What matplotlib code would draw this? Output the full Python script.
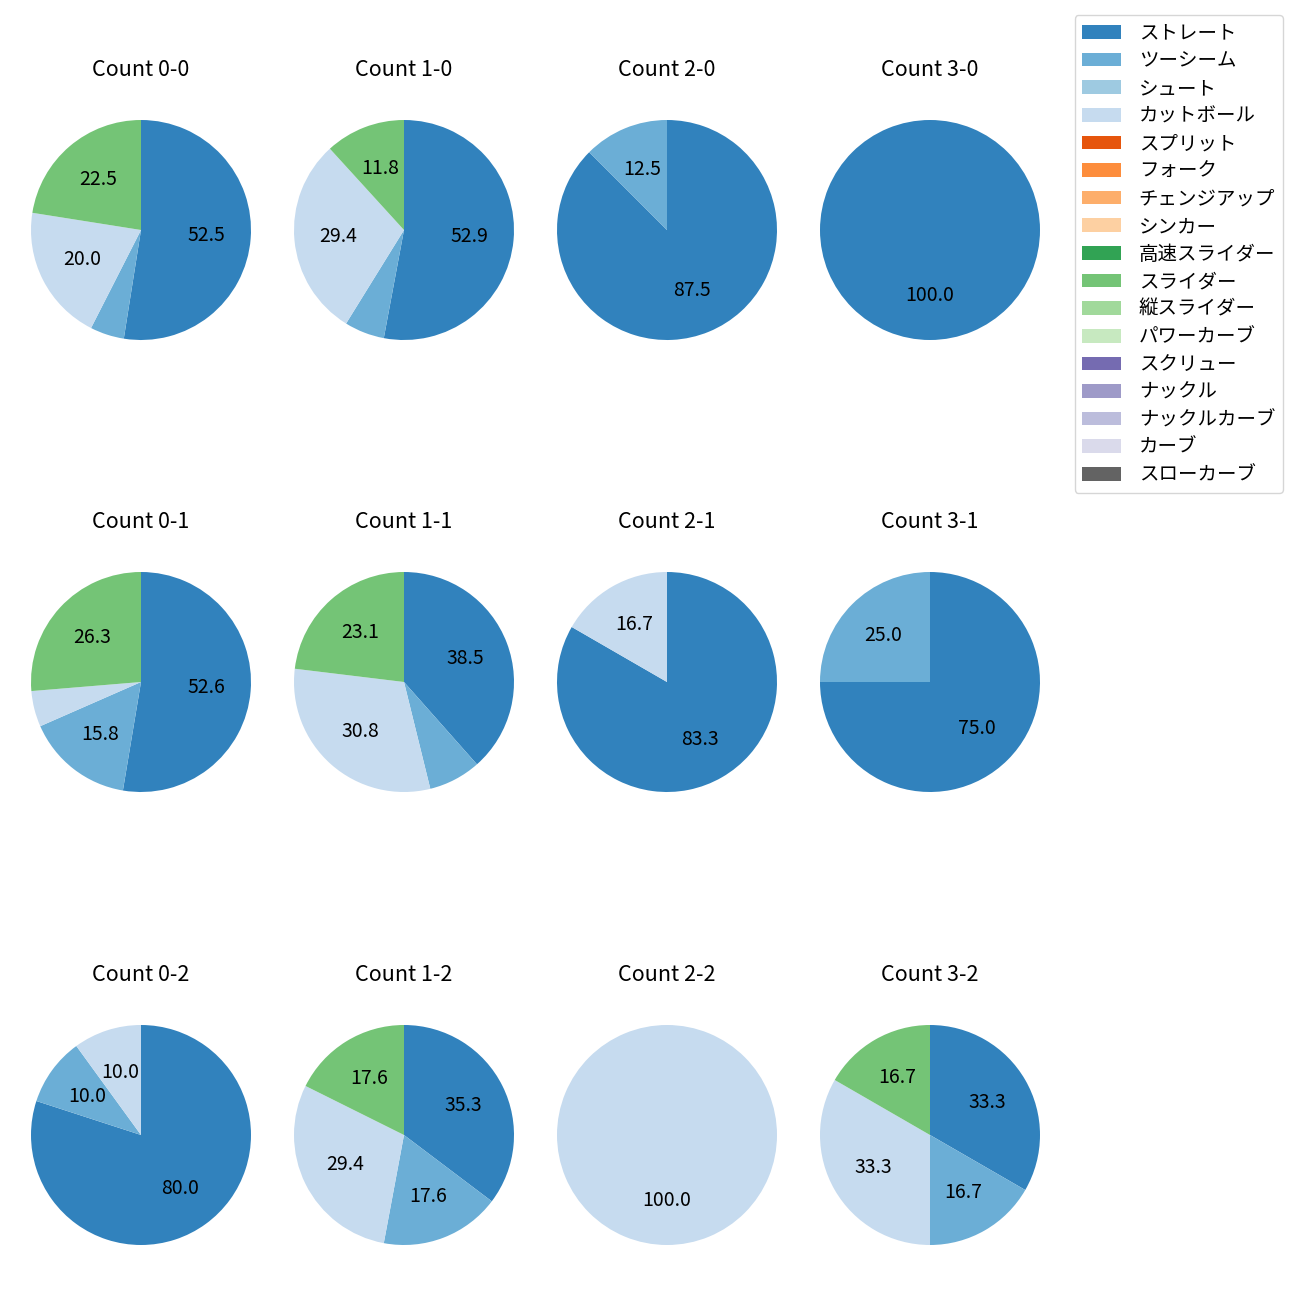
import numpy as np
import matplotlib
matplotlib.use("Agg")
import matplotlib.pyplot as plt
from matplotlib.patches import Patch

plt.rcParams['font.family'] = ['Noto Sans CJK JP', 'DejaVu Sans']

# =========================================
# DATA
# =========================================
PITCHES = [
    "ストレート", "ツーシーム", "シュート", "カットボール",
    "スプリット", "フォーク", "チェンジアップ", "シンカー",
    "高速スライダー", "スライダー", "縦スライダー", "パワーカーブ",
    "スクリュー", "ナックル", "ナックルカーブ", "カーブ", "スローカーブ",
]

COUNTS = ["0-0", "1-0", "2-0", "3-0",
          "0-1", "1-1", "2-1", "3-1",
          "0-2", "1-2", "2-2", "3-2"]

# pitch counts per ball-strike count: ストレート, ツーシーム, カットボール, スライダー
straight = [21, 9, 7, 1, 10, 5, 5, 3, 8, 6, 0, 2]
twoseam  = [2, 1, 1, 0, 3, 1, 0, 1, 1, 3, 0, 1]
cutball  = [8, 5, 0, 0, 1, 4, 1, 0, 1, 5, 1, 2]
slider   = [9, 2, 0, 0, 5, 3, 0, 0, 0, 3, 0, 1]

colors = [plt.cm.tab20c(i) for i in range(len(PITCHES))]


def pct_label(p):
    return f"{p:.1f}" if p >= 10 else ""


W = H = 1300
fig = plt.figure(figsize=(13, 13), dpi=100)

# pie centres in pixels
col_x = [141, 404, 667, 930]
row_y = [230, 682, 1135]
side = 250

for k, cnt in enumerate(COUNTS):
    cx = col_x[k % 4]
    cy = row_y[k // 4]
    ax = fig.add_axes([(cx - side / 2) / W, 1 - (cy + side / 2) / H, side / W, side / H])
    vals = np.zeros(len(PITCHES))
    vals[PITCHES.index("ストレート")] = straight[k]
    vals[PITCHES.index("ツーシーム")] = twoseam[k]
    vals[PITCHES.index("カットボール")] = cutball[k]
    vals[PITCHES.index("スライダー")] = slider[k]
    ax.pie(vals, colors=colors, startangle=90, counterclock=False,
           radius=1.1, autopct=pct_label, pctdistance=0.6,
           textprops={'fontsize': 14})
    ax.set_title(f"Count {cnt}", fontsize=15.5, pad=21)
    ax.set_aspect('equal')

handles = [Patch(facecolor=c) for c in colors]
fig.legend(handles, PITCHES, loc='upper right',
           bbox_to_anchor=(1283 / W, 1 - 15 / H), borderaxespad=0,
           fontsize=14, labelspacing=0.34, handletextpad=0.9)

fig.savefig("out.png", dpi=100)
